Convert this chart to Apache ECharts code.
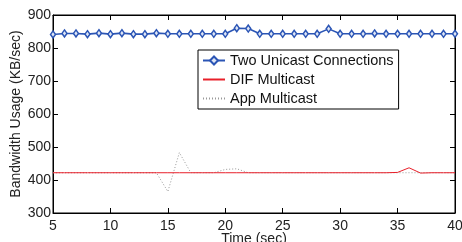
<!DOCTYPE html>
<html>
<head>
<meta charset="utf-8">
<script src="https://cdn.jsdelivr.net/npm/echarts@6/dist/echarts.min.js"></script>
<style>
  html, body { margin: 0; padding: 0; background: #fff; }
  #chart { width: 462px; height: 242px; }
</style>
</head>
<body>
<div id="chart"></div>
<script>
var times = [5, 6, 7, 8, 9, 10, 11, 12, 13, 14, 15, 16, 17, 18, 19, 20, 21, 22,
             23, 24, 25, 26, 27, 28, 29, 30, 31, 32, 33, 34, 35, 36, 37, 38, 39, 40]
var unicast = [841, 844, 844, 842, 845, 842, 845, 842, 842, 845, 843, 843, 843, 843, 843, 843, 860, 859,
               843, 843, 843, 843, 843, 843, 858, 843, 843, 843, 844, 843, 843, 843, 843, 843, 843, 843]
var difMulticast = [422, 422, 422, 422, 422, 422, 422, 422, 422, 422, 422, 422, 422, 422, 422, 422, 422, 422,
                    422, 422, 422, 422, 422, 422, 422, 422, 422, 422, 422, 422, 423, 437, 421, 422, 422, 422]
var appMulticast = [422, 422, 422, 422, 422, 422, 422, 422, 422, 422, 365, 483, 422, 422, 422, 432, 434, 422,
                    422, 422, 422, 422, 422, 422, 422, 422, 422, 422, 422, 422, 422, 422, 422, 422, 422, 422]
var xTicks = [5, 10, 15, 20, 25, 30, 35, 40]
var yTicks = [300, 400, 500, 600, 700, 800, 900]
var seriesNames = ['Two Unicast Connections', 'DIF Multicast', 'App Multicast']

function pairs(vals) {
    return times.map(function (t, i) { return [t, vals[i]] })
}

var font = 'Liberation Sans, Arial, Helvetica, sans-serif'
var tickStyle = { show: true, inside: true, length: 5, lineStyle: { color: '#000', width: 1 } }
// hide the symbol in the legend, keep the line sample
var noMark = { opacity: 0 }

var chart = echarts.init(document.getElementById('chart'))
chart.setOption({
    animation: false,
    grid: {
        left: 53, right: 7, top: 15, bottom: 29,
        outerBoundsMode: 'none', containLabel: false,
        show: true, borderColor: '#000', borderWidth: 1, backgroundColor: '#fff'
    },
    legend: {
        left: 198, top: 50,
        orient: 'vertical',
        padding: [3, 5, 3, 4],
        itemGap: 4,
        itemWidth: 22, itemHeight: 10,
        borderColor: '#000', borderWidth: 1,
        backgroundColor: '#fff',
        textStyle: { fontFamily: font, fontSize: 14.5, color: '#111', padding: [0, 0, 0, 0] },
        data: [
            { name: seriesNames[0] },
            { name: seriesNames[1], itemStyle: noMark },
            { name: seriesNames[2], itemStyle: noMark }
        ]
    },
    xAxis: [{
        type: 'value', min: 5, max: 40, interval: 5,
        name: 'Time (sec)', nameLocation: 'middle', nameGap: 19, nameMoveOverlap: false,
        nameTextStyle: { fontFamily: font, fontSize: 14, color: '#222', verticalAlign: 'top' },
        axisLine: { show: true, lineStyle: { color: '#000' } },
        axisTick: tickStyle,
        axisLabel: {
            fontFamily: font, fontSize: 14, color: '#222', margin: 6,
            customValues: xTicks
        },
        splitLine: { show: false }
    }, {
        type: 'value', min: 5, max: 40, interval: 5, position: 'top',
        axisLine: { show: true, lineStyle: { color: '#000' } },
        axisTick: tickStyle, axisLabel: { show: false }, splitLine: { show: false }
    }],
    yAxis: [{
        type: 'value', min: 300, max: 900, interval: 100,
        name: 'Bandwidth Usage (KB/sec)', nameLocation: 'middle', nameGap: 30, nameMoveOverlap: false,
        nameTextStyle: { fontFamily: font, fontSize: 14, color: '#222' },
        axisLine: { show: true, lineStyle: { color: '#000' } },
        axisTick: tickStyle,
        axisLabel: {
            fontFamily: font, fontSize: 14, color: '#222', margin: 2,
            customValues: yTicks
        },
        splitLine: { show: false }
    }, {
        type: 'value', min: 300, max: 900, interval: 100, position: 'right',
        axisLine: { show: true, lineStyle: { color: '#000' } },
        axisTick: tickStyle, axisLabel: { show: false }, splitLine: { show: false }
    }],
    series: [{
        name: seriesNames[2],
        type: 'line',
        data: pairs(appMulticast),
        showSymbol: false,
        symbol: 'none',
        lineStyle: { color: '#999', width: 1, type: [1, 2] },
        itemStyle: { color: '#999' },
        z: 2
    }, {
        name: seriesNames[1],
        type: 'line',
        data: pairs(difMulticast),
        symbol: 'none',
        lineStyle: { color: '#e8202a', width: 1 },
        itemStyle: { color: '#e8202a' },
        z: 3
    }, {
        name: seriesNames[0],
        type: 'line',
        data: pairs(unicast),
        symbol: 'diamond',
        symbolSize: [5, 7],
        lineStyle: { color: '#2b55b5', width: 1.6 },
        itemStyle: { color: '#dfe6f5', borderColor: '#2b55b5', borderWidth: 1.5 },
        z: 4
    }]
})
</script>
</body>
</html>
